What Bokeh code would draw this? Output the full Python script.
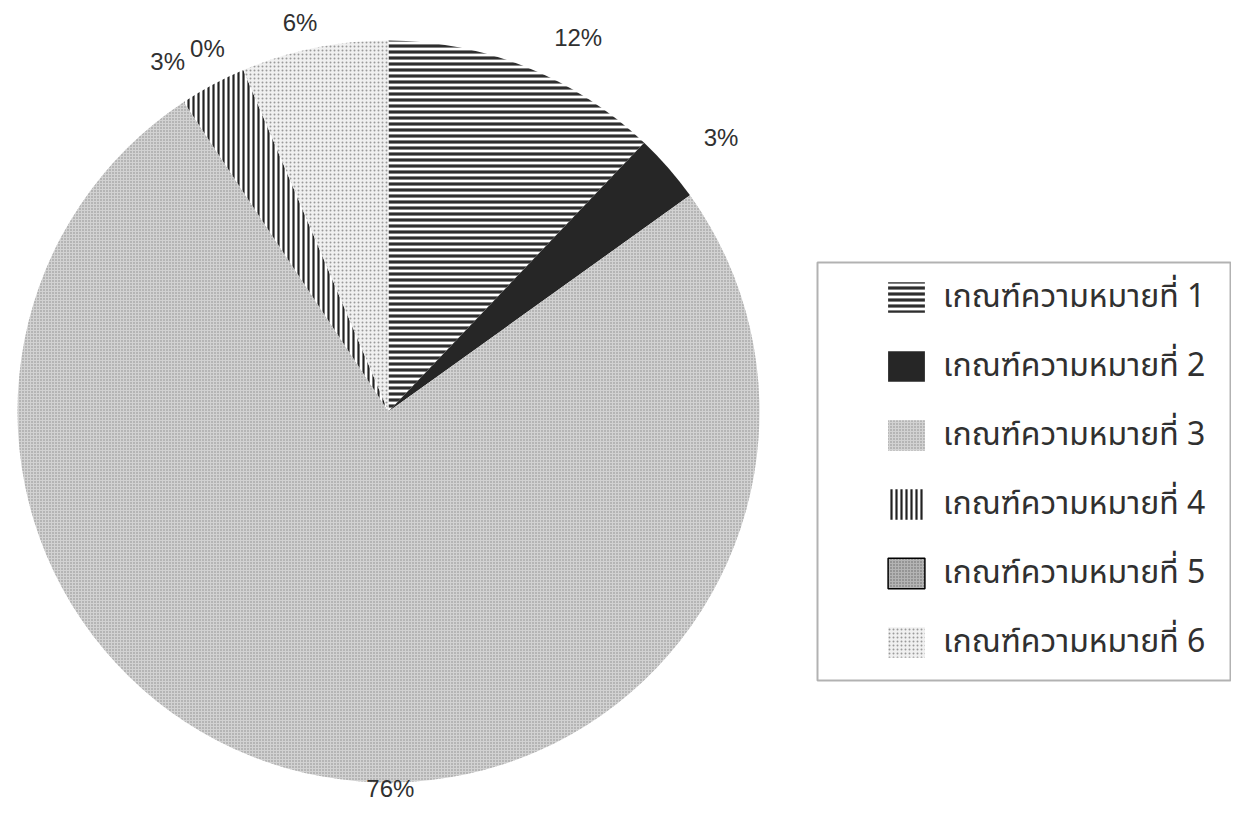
import numpy as np
from bokeh.plotting import figure
from bokeh.models import Range1d, Legend, LegendItem, BoxAnnotation, ColumnDataSource
from bokeh.core.properties import value
from bokeh.embed import file_html
from bokeh.resources import INLINE

# ---- data ----
categories = ["เกณฑ์ความหมายที่ 1", "เกณฑ์ความหมายที่ 2", "เกณฑ์ความหมายที่ 3",
              "เกณฑ์ความหมายที่ 4", "เกณฑ์ความหมายที่ 5", "เกณฑ์ความหมายที่ 6"]
shares = [12.1, 3.0, 75.6, 2.9, 0.0, 6.4]

# ---- styles (one per slice) ----
fills = ["white", "#262626", "#d2d2d2", "white", "#b4b4b4", "#f0f0f0"]
hatches = ["horizontal_line", "blank", "dot", "vertical_line", "dot", "dot"]
hatch_colors = ["#2e2e2e", "#262626", "#8a8a8a", "#222222", "#666666", "#9a9a9a"]
hatch_scales = [6, 6, 3, 5, 3, 4]
hatch_weights = [3.2, 1, 1, 2.2, 1, 1]
# small screen-pixel nudges for the percentage labels
label_dx = [18, 15, 74, -15, -8, -9]
label_dy = [4, 13, 14, -1, -3, -1]

W, H = 1231, 801
cx, cy, r = 388, 390, 371

p = figure(width=W, height=H, x_range=Range1d(0, W), y_range=Range1d(0, H),
           output_backend="svg", toolbar_location=None, min_border=0,
           x_axis_type=None, y_axis_type=None)
p.grid.visible = False
p.outline_line_color = None
p.background_fill_color = "white"
p.border_fill_color = "white"

frac = np.array(shares) / np.sum(shares)
cum = np.concatenate([[0.0], np.cumsum(frac)])
starts = np.pi / 2 - 2 * np.pi * cum[:-1]
ends = np.pi / 2 - 2 * np.pi * cum[1:]

items = []
for i, cat in enumerate(categories):
    style = dict(fill_color=fills[i], hatch_pattern=hatches[i], hatch_color=hatch_colors[i],
                 hatch_scale=hatch_scales[i], hatch_weight=hatch_weights[i])
    if shares[i] > 0:
        rend = p.wedge(x=cx, y=cy, radius=r, start_angle=starts[i], end_angle=ends[i],
                       direction="clock", line_color=None, **style)
    else:
        # zero share: nothing visible in the pie, but keep a legend swatch
        rend = p.rect(x=[cx], y=[cy], width=0, height=0, line_color="black",
                      line_width=1.5, **style)
    items.append(LegendItem(label=cat, renderers=[rend]))

# percentage labels outside the pie
mid = (starts + ends) / 2
R = r + 27
lx = cx + R * np.cos(mid) + np.array(label_dx)
ly = cy + R * np.sin(mid) + np.array(label_dy)
aligns = ["left" if np.cos(a) > 0.3 else ("right" if np.cos(a) < -0.3 else "center") for a in mid]
src = ColumnDataSource(dict(x=lx, y=ly, t=[f"{round(v)}%" for v in shares], a=aligns))
p.text(x="x", y="y", text="t", source=src, text_align="a", text_baseline="middle",
       text_font=value("Liberation Sans"), text_font_size="24px", text_color="#303030")

legend = Legend(items=items, location=(883, 135), border_line_color=None,
                background_fill_alpha=0, glyph_width=46, glyph_height=38, label_height=48,
                spacing=21, padding=0, margin=0, label_standoff=14,
                label_text_font_size="32px",
                label_text_font="Noto Sans Thai, Loma, Noto Sans, sans-serif",
                label_text_color="#303030")
p.add_layout(legend)

box = BoxAnnotation(left=817, right=1230, top=539, bottom=121, fill_color=None,
                    fill_alpha=0, line_color="black", line_width=2)
p.add_layout(box)

open("out.html", "w").write(file_html(p, INLINE))
